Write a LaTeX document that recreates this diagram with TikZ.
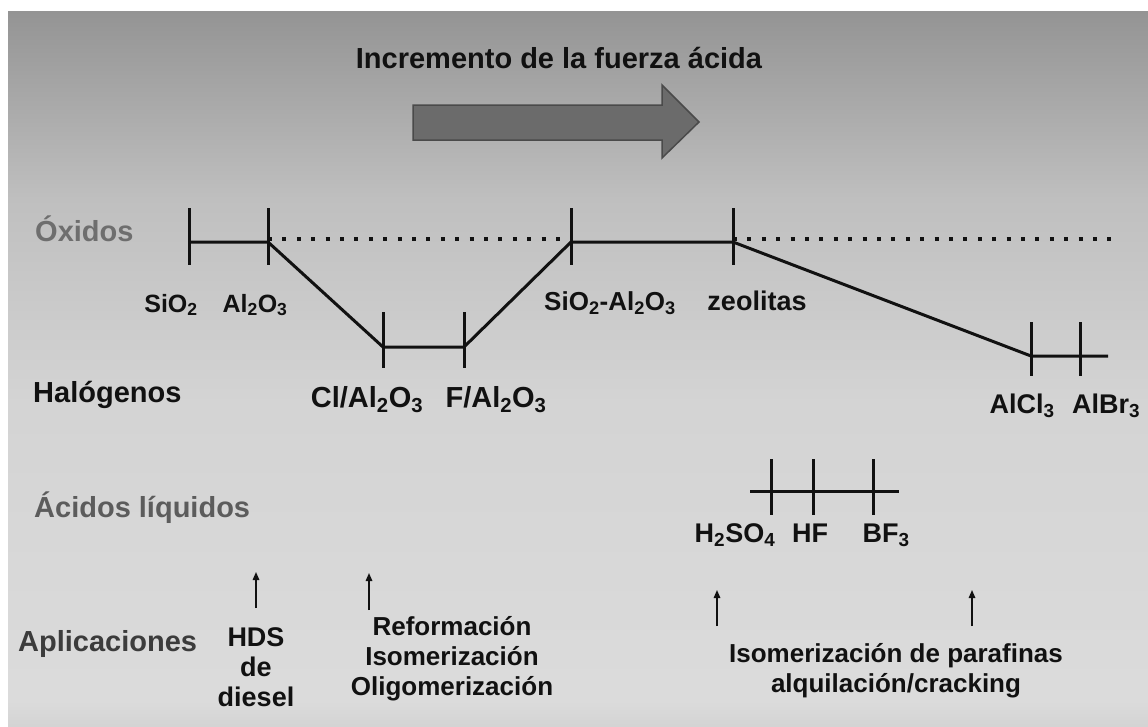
\documentclass[tikz,border=0pt]{standalone}
\usepackage{fontspec}
\setmainfont{Liberation Sans}
\usetikzlibrary{arrows.meta}

\definecolor{bgtop}{gray}{0.58}
\definecolor{bgmidA}{gray}{0.75}
\definecolor{bgmidB}{gray}{0.83}
\definecolor{bgbot}{gray}{0.86}
\definecolor{bgedge}{gray}{0.83}
\definecolor{arrowfill}{HTML}{6B6B6B}
\definecolor{arrowline}{HTML}{4A4A4A}
\definecolor{oxgray}{HTML}{6E6E6E}
\definecolor{acgray}{HTML}{5C5C5C}
\definecolor{apgray}{HTML}{3C3C3C}
\definecolor{ink}{HTML}{111111}

\pgfdeclareverticalshading{bgshade}{100bp}{color(0bp)=(bgedge); color(25bp)=(bgedge); color(26.8bp)=(bgbot); color(47.8bp)=(bgmidB); color(61.8bp)=(bgmidA); color(75bp)=(bgtop); color(100bp)=(bgtop)}

\newcommand{\fsz}[1]{\fontsize{#1}{#1}\selectfont}

\begin{document}
\begin{tikzpicture}[x=1pt,y=-1pt,
  mainline/.style={draw=ink,line width=3pt,line join=round},
  tickmark/.style={draw=ink,line width=3pt},
  dotline/.style={draw=ink,line width=4pt,dash pattern=on 4pt off 10.4pt},
  uparrow/.style={draw=ink,line width=1.5pt,-{Triangle[length=8pt,width=6.5pt]}},
  rowlabel/.style={anchor=base west,inner sep=0pt,font=\bfseries\fsz{29}},
  chem/.style={anchor=base,inner sep=0pt,text=ink,font=\bfseries\fsz{#1}},
  chem/.default=27,
  apptext/.style={anchor=base,inner sep=0pt,align=center,text=ink,font=\bfseries\fontsize{#1}{30}\selectfont},
]
\useasboundingbox (0,0) rectangle (1148,726);
\fill[white] (0,0) rectangle (1148,726);
\fill[shading=bgshade] (8,11) rectangle (1148,726);

% title and big arrow
\node[anchor=base,inner sep=0pt,text=ink,font=\bfseries\fsz{29}] (title) at (559,68) {Incremento de la fuerza ácida};
\draw[fill=arrowfill,draw=arrowline,line width=1.5pt,line join=miter]
  (413,105) -- (662,105) -- (662,85) -- (699,122) -- (662,158) -- (662,140) -- (413,140) -- cycle;

% row labels
\node[rowlabel,text=oxgray] (oxidos) at (35,241) {Óxidos};
\node[rowlabel,text=ink] (halog) at (33,402) {Halógenos};
\node[rowlabel,text=acgray] (acidos) at (34,517) {Ácidos líquidos};
\node[rowlabel,text=apgray] (aplic) at (18,651) {Aplicaciones};

% points of the scale
\coordinate (sio2) at (189,242);
\coordinate (al2o3) at (268,242);
\coordinate (cl) at (383,347);
\coordinate (f) at (464,347);
\coordinate (sa) at (571,242);
\coordinate (zeo) at (733,242);
\coordinate (alcl3) at (1031,356);
\coordinate (albr3) at (1080,356);
\coordinate (alend) at (1108,356);
\coordinate (dotA) at (268,239);
\coordinate (dotB) at (571,239);
\coordinate (dotC) at (733,239);
\coordinate (dotD) at (1120,239);

\draw[dotline] (dotA) -- (dotB);
\draw[dotline] (dotC) -- (dotD);
\draw[mainline] (sio2) -- (al2o3) -- (cl) -- (f) -- (sa) -- (zeo) -- (alcl3) -- (albr3) -- (alend);

\foreach \p in {sio2,al2o3,sa,zeo} \draw[tickmark] (\p) ++(0,-34) -- ++(0,57);
\foreach \p in {cl,f} \draw[tickmark] (\p) ++(0,-35) -- ++(0,56);
\foreach \p in {alcl3,albr3} \draw[tickmark] (\p) ++(0,-34) -- ++(0,54);

% liquid acids
\coordinate (liqA) at (750,491);
\coordinate (h2so4) at (771,491);
\coordinate (hf) at (813,491);
\coordinate (bf3) at (873,491);
\coordinate (liqB) at (899,491);
\draw[mainline] (liqA) -- (h2so4) -- (hf) -- (bf3) -- (liqB);
\foreach \p in {h2so4,hf,bf3} \draw[tickmark] (\p) ++(0,-32) -- ++(0,56);

% labels of the scale
\node[chem=25] (lsio2) at (171,312) {SiO\textsubscript{2}};
\node[chem=25] (lal2o3) at (255,312) {Al\textsubscript{2}O\textsubscript{3}};
\node[chem=26] (lsa) at (610,310) {SiO\textsubscript{2}-Al\textsubscript{2}O\textsubscript{3}};
\node[chem=27] (lzeo) at (757,310) {zeolitas};
\node[chem=29] (lcl) at (367,407) {Cl/Al\textsubscript{2}O\textsubscript{3}};
\node[chem=29] (lf) at (496,407) {F/Al\textsubscript{2}O\textsubscript{3}};
\node[chem=27] (lalcl3) at (1022,413) {AlCl\textsubscript{3}};
\node[chem=27] (lalbr3) at (1106,413) {AlBr\textsubscript{3}};
\node[chem=27] (lh2so4) at (735,542) {H\textsubscript{2}SO\textsubscript{4}};
\node[chem=27] (lhf) at (810,542) {HF};
\node[chem=27] (lbf3) at (886,542) {BF\textsubscript{3}};

% applications (base anchor = baseline of the last line)
\node[apptext=27] (hds) at (256,706) {HDS\\de\\diesel};
\node[apptext=26] (reform) at (452,695) {Reformación\\Isomerización\\Oligomerización};
\node[apptext=26] (isom) at (896,692) {Isomerización de parafinas\\alquilación/cracking};

\coordinate (a1s) at (256,608); \coordinate (a1e) at (256,572);
\coordinate (a2s) at (369,610); \coordinate (a2e) at (369,573);
\coordinate (a3s) at (717,626); \coordinate (a3e) at (717,590);
\coordinate (a4s) at (972,626); \coordinate (a4e) at (972,590);
\draw[uparrow] (a1s) -- (a1e);
\draw[uparrow] (a2s) -- (a2e);
\draw[uparrow] (a3s) -- (a3e);
\draw[uparrow] (a4s) -- (a4e);
\end{tikzpicture}
\end{document}
